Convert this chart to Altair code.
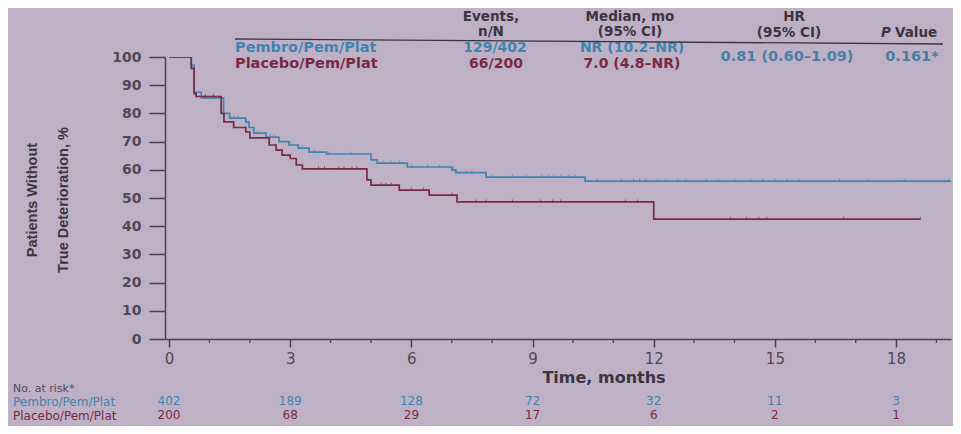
import altair as alt
import pandas as pd

# ---------------- data ----------------
blue_t = [0, 0.55, 0.62, 0.8, 1.35, 1.5, 1.9, 1.98, 2.1, 2.4, 2.72, 2.97, 3.2, 3.47, 3.9,
          5.0, 5.15, 5.9, 7.0, 7.1, 7.85, 10.3, 19.4]
blue_s = [100, 97, 87.5, 85.5, 80, 78.3, 77, 75, 73, 71.6, 70, 68.8, 67.7, 66.3, 65.6,
          63.5, 62.4, 61, 60, 59, 57.4, 56, 56]

red_t = [0, 0.55, 0.62, 0.67, 1.29, 1.36, 1.6, 1.9, 2.0, 2.48, 2.65, 2.8, 3.0, 3.15, 3.3,
         4.9, 5.0, 5.7, 6.44, 7.13, 12.0, 18.6]
red_s = [100, 96, 87, 86, 80, 77, 75, 73.4, 71.3, 68.8, 67, 65.2, 64, 61.7, 60.3,
         56.4, 54.6, 52.8, 51, 48.6, 42.5, 42.5]

blue_cens_t = [0.9, 1.0, 1.1, 1.2, 1.6, 1.7, 2.2, 2.5, 2.6, 3.0, 3.3, 3.6, 3.96, 4.5,
               5.3, 5.5, 5.7, 6.0, 6.4, 6.7, 7.05, 7.35, 7.5, 8.0, 8.5, 8.84, 9.23, 9.4,
               9.53, 9.7, 9.9, 10.05, 10.6, 11.2, 11.5, 11.65, 11.8, 12.1, 12.3, 12.6,
               12.8, 13.3, 13.6, 14.0, 14.4, 14.7, 15.0, 15.3, 15.6, 16.6, 17.3, 18.2, 19.3]
blue_cens_s = [85.5, 85.5, 85.5, 85.5, 78.3, 78.3, 73, 71.6, 71.6, 68.8, 67.7, 66.3, 65.6, 65.6,
               62.4, 62.4, 62.4, 61, 61, 61, 60, 59, 59, 57.4, 57.4, 57.4, 57.4, 57.4,
               57.4, 57.4, 57.4, 57.4, 56, 56, 56, 56, 56, 56, 56, 56,
               56, 56, 56, 56, 56, 56, 56, 56, 56, 56, 56, 56, 56]

red_cens_t = [0.9, 1.1, 3.7, 3.85, 4.2, 4.33, 4.53, 4.65, 5.25, 5.37, 5.5, 6.0, 6.3, 7.0,
              7.6, 7.85, 8.5, 9.2, 9.5, 9.7, 11.3, 11.6, 13.9, 14.3, 14.6, 14.8, 16.7, 18.6]
red_cens_s = [86, 86, 60.3, 60.3, 60.3, 60.3, 60.3, 60.3, 54.6, 54.6, 54.6, 52.8, 52.8, 51,
              48.6, 48.6, 48.6, 48.6, 48.6, 48.6, 48.6, 48.6, 42.5, 42.5, 42.5, 42.5, 42.5, 42.5]

risk_times = [0, 3, 6, 9, 12, 15, 18]
risk_pembro = [402, 189, 128, 72, 32, 11, 3]
risk_placebo = [200, 68, 29, 17, 6, 2, 1]

major_ticks = [0, 3, 6, 9, 12, 15, 18]
minor_ticks = [1, 2, 4, 5, 7, 8, 10, 11, 13, 14, 16, 17, 19]
y_ticks = [0, 10, 20, 30, 40, 50, 60, 70, 80, 90, 100]

groups = ["Pembro/Pem/Plat", "Placebo/Pem/Plat"]
events = ["129/402", "66/200"]
medians = ["NR (10.2–NR)", "7.0 (4.8–NR)"]
hr_text = "0.81 (0.60–1.09)"
p_text = "0.161*"

# ---------------- styling ----------------
BLUE = "#3f84b0"
RED = "#7a2943"
DARK = "#3a3440"
AXC = "#4a4450"
LABC = "#4f4955"
BG = "#bfb1c5"
FONT = "DejaVu Sans"

W, H = 786, 282
PX0, PY0 = 165, 57  # plot origin on the page


def ax(x):
    return x - PX0


def ay(y):
    return y - PY0


xs = alt.Scale(domain=[-0.1, 19.36], nice=False, zero=False)
ys = alt.Scale(domain=[0, 100], nice=False)

major_axis = alt.Axis(values=major_ticks, orient="bottom", tickSize=8, tickWidth=1.5,
                      tickColor=AXC, domainColor=AXC, domainWidth=1.5, labelFont=FONT,
                      labelFontSize=15, labelColor=LABC, labelPadding=4, labelFlush=False,
                      grid=False, title=None)
y_axis = alt.Axis(values=y_ticks, orient="left", tickSize=16, tickWidth=1.5, tickColor=AXC,
                  domainColor=AXC, domainWidth=1.5, labelFont=FONT, labelFontSize=14,
                  labelFontWeight="bold", labelColor=LABC, labelPadding=8, grid=False,
                  labelFlush=False, title=None)

blue_df = pd.DataFrame({"t": blue_t, "s": blue_s})
red_df = pd.DataFrame({"t": red_t, "s": red_s})
bc_df = pd.DataFrame({"t": blue_cens_t, "s": blue_cens_s})
rc_df = pd.DataFrame({"t": red_cens_t, "s": red_cens_s})
minor_df = pd.DataFrame({"t": minor_ticks})

blue_line = alt.Chart(blue_df).mark_line(interpolate="step-after", color=BLUE,
                                         strokeWidth=1.7, clip=True).encode(
    x=alt.X("t:Q", scale=xs, axis=major_axis),
    y=alt.Y("s:Q", scale=ys, axis=y_axis))
red_line = alt.Chart(red_df).mark_line(interpolate="step-after", color=RED,
                                       strokeWidth=1.7, clip=True).encode(
    x=alt.X("t:Q", scale=xs, axis=None),
    y=alt.Y("s:Q", scale=ys, axis=None))

minor = alt.Chart(minor_df).mark_rule(color=AXC, strokeWidth=1.3).encode(
    x=alt.X("t:Q", scale=xs, axis=None), y=alt.value(H), y2=alt.value(H + 4))

CENS = "M0,-1L0,0.3"
blue_c = alt.Chart(bc_df).mark_point(shape=CENS, size=25, filled=False, strokeWidth=1,
                                     color=BLUE, clip=True).encode(
    x=alt.X("t:Q", scale=xs, axis=None), y=alt.Y("s:Q", scale=ys, axis=None))
red_c = alt.Chart(rc_df).mark_point(shape=CENS, size=25, filled=False, strokeWidth=1,
                                    color=RED, clip=True).encode(
    x=alt.X("t:Q", scale=xs, axis=None), y=alt.Y("s:Q", scale=ys, axis=None))


def label(txt, x, y, size=15, color=DARK, weight="bold", align="center", font=FONT,
          angle=0, style="normal"):
    return alt.Chart(pd.DataFrame({"txt": [txt]})).mark_text(
        fontSize=size, color=color, fontWeight=weight, align=align, baseline="middle",
        font=font, angle=angle, fontStyle=style).encode(
        x=alt.value(ax(x)), y=alt.value(ay(y)), text="txt:N")


layers = [blue_line, red_line, minor, blue_c, red_c]

# header table
layers += [
    label("Events,", 491, 17, 13.5), label("n/N", 491, 32, 13.5),
    label("Median, mo", 630, 17, 13.5), label("(95% CI)", 630, 32, 13.5),
    label("HR", 794, 17, 13.5), label("(95% CI)", 789, 33, 13.5),
    label("P", 891, 33, 13.5, align="right", style="italic"),
    label("Value", 895, 33, 13.5, align="left"),
    label(groups[0], 235, 48, 14.5, color=BLUE, align="left"),
    label(groups[1], 235, 64, 14.5, color=RED, align="left"),
    label(events[0], 495, 48, 14, color=BLUE), label(events[1], 496, 64, 14, color=RED),
    label(medians[0], 632, 48, 14, color=BLUE), label(medians[1], 632, 64, 14, color=RED),
    label(hr_text, 787, 57, 14.5, color="#4a7ea6"),
    label(p_text, 912, 57, 14.5, color="#4a7ea6"),
]

header_rule = alt.Chart(pd.DataFrame({"k": [0]})).mark_rule(color=DARK, strokeWidth=1.3).encode(
    x=alt.value(ax(235)), x2=alt.value(ax(943)), y=alt.value(ay(39)), y2=alt.value(ay(44)))
layers.append(header_rule)

# axis titles
TFONT = "Liberation Sans"
layers += [
    label("Patients Without", 33, 200, 14.5, font=TFONT, angle=270),
    label("True Deterioration, %", 64, 200, 14.5, font=TFONT, angle=270),
    label("Time, months", 604, 378, 16),
]

# number at risk table
layers += [
    label("No. at risk*", 13, 389, 11, color=LABC, weight="normal", align="left"),
    label(groups[0], 13, 402, 12, color=BLUE, weight="normal", align="left"),
    label(groups[1], 13, 416, 12, color=RED, weight="normal", align="left"),
]
rp = pd.DataFrame({"t": risk_times, "n": risk_pembro})
rq = pd.DataFrame({"t": risk_times, "n": risk_placebo})
layers.append(alt.Chart(rp).mark_text(fontSize=12, font=FONT, color=BLUE).encode(
    x=alt.X("t:Q", scale=xs, axis=None), y=alt.value(ay(401)), text="n:Q"))
layers.append(alt.Chart(rq).mark_text(fontSize=12, font=FONT, color=RED).encode(
    x=alt.X("t:Q", scale=xs, axis=None), y=alt.value(ay(415)), text="n:Q"))

chart = alt.layer(*layers).resolve_axis(x="independent", y="independent").properties(
    width=W, height=H,
    autosize=alt.AutoSizeParams(type="none"),
    padding={"left": 157, "top": 49, "right": 2, "bottom": 87},
    background=BG,
).configure_view(strokeWidth=0)

chart.save("out.html", embed_options={"renderer": "svg", "actions": False})
